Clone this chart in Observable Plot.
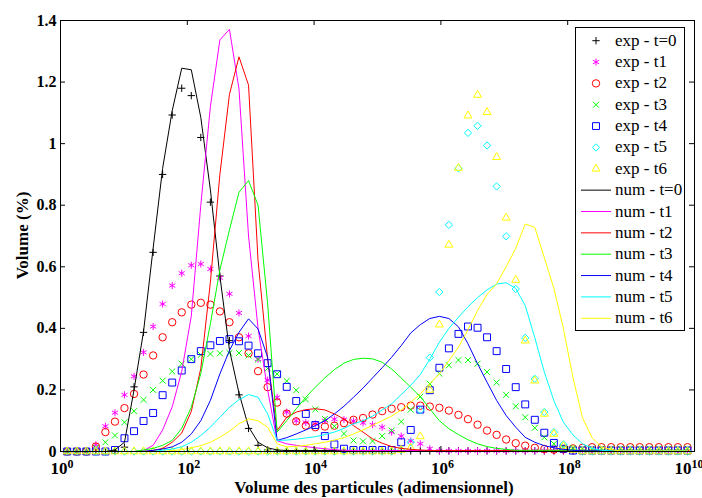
<!DOCTYPE html>
<html><head><meta charset="utf-8">
<script src="https://cdn.jsdelivr.net/npm/d3@7"></script>
<script src="https://cdn.jsdelivr.net/npm/@observablehq/plot@0.6"></script>
<style>
html,body{margin:0;padding:0;background:#fff;overflow:hidden;}
#chart{width:702px;height:498px;}
</style></head><body><div id="chart"></div>
<script>
// log10 of particle volume at each grid point
const logVol = [
 0.106,0.257,0.407,0.558,0.708,0.859,1.009,1.160,1.310,1.461,
 1.611,1.762,1.912,2.063,2.213,2.364,2.514,2.665,2.815,2.966,
 3.116,3.267,3.417,3.568,3.718,3.869,4.019,4.170,4.320,4.471,
 4.621,4.772,4.922,5.073,5.223,5.374,5.524,5.675,5.825,5.976,
 6.126,6.277,6.427,6.578,6.728,6.879,7.029,7.180,7.330,7.481,
 7.631,7.782,7.932,8.083,8.233,8.384,8.534,8.685,8.835,8.986,
 9.136,9.287,9.437,9.588,9.738,9.889];

const expT0 = [
 0,0,0,0,0,0.003,0.014,0.21,0.387,0.647,
 0.90,1.093,1.18,1.156,1.02,0.81,0.57,0.36,0.184,0.075,
 0.02,0.005,0.002,0.002,0.002,0.002,0.002,0.002,0.002,0.002,
 0.002,0.002,0.002,0.002,0.002,0.002,0.002,0.002,0.002,0.002,
 0.002,0.002,0.002,0.002,0.002,0.002,0.002,0.002,0.002,0.002,
 0.002,0.002,0.002,0.002,0.002,0.002,0.002,0.002,0.002,0.002,
 0.002,0.002,0.002,0.002,0.002,0.002];
const expT1 = [
 0,0,0,0.022,0.082,0.126,0.184,0.244,0.322,0.406,
 0.479,0.539,0.579,0.605,0.609,0.593,0.564,0.512,0.45,0.375,
 0.30,0.232,0.176,0.128,0.10,0.094,0.09,0.10,0.105,0.104,
 0.099,0.093,0.087,0.079,0.063,0.05,0.034,0.025,0.009,0.002,
 0.002,0.002,0.002,0.002,0.002,0.002,0.002,0.002,0.002,0.002,
 0.002,0.002,0.002,0.002,0.002,0.002,0.002,0.002,0.002,0.002,
 0.002,0.002,0.002,0.002,0.002,0.002];
const expT2 = [
 0,0,0,0.016,0.063,0.097,0.141,0.187,0.25,0.312,
 0.371,0.42,0.452,0.477,0.483,0.477,0.455,0.42,0.371,0.319,
 0.261,0.209,0.159,0.123,0.098,0.084,0.079,0.081,0.084,0.092,
 0.103,0.109,0.12,0.131,0.139,0.144,0.149,0.149,0.146,0.142,
 0.133,0.119,0.105,0.087,0.068,0.054,0.039,0.027,0.019,0.012,
 0.008,0.006,0.007,0.01,0.012,0.014,0.014,0.014,0.014,0.014,
 0.014,0.014,0.014,0.014,0.014,0.014];
const expT3 = [
 0,0,0,0.012,0.03,0.052,0.095,0.131,0.168,0.2,
 0.23,0.26,0.285,0.30,0.314,0.317,0.319,0.32,0.32,0.312,
 0.299,0.27,0.252,0.229,0.199,0.169,0.137,0.106,0.082,0.058,
 0.036,0.033,0.034,0.05,0.068,0.097,0.136,0.178,0.22,0.253,
 0.28,0.297,0.297,0.285,0.258,0.224,0.184,0.147,0.111,0.077,
 0.046,0.025,0.014,0.01,0.01,0.01,0.01,0.01,0.01,0.01,
 0.01,0.01,0.01,0.01,0.01,0.01];
const expT4 = [
 0,0,0,0,0,0.005,0.043,0.066,0.099,0.125,
 0.183,0.224,0.263,0.30,0.326,0.345,0.359,0.365,0.358,0.344,
 0.319,0.287,0.251,0.21,0.164,0.122,0.086,0.05,0.023,0.009,
 0.005,0.005,0.005,0.005,0.005,0.03,0.07,0.136,0.199,0.272,
 0.335,0.382,0.406,0.402,0.371,0.326,0.268,0.209,0.153,0.103,
 0.061,0.028,0.009,0.003,0.003,0.003,0.003,0.003,0.003,0.003,
 0.003,0.003,0.003,0.003,0.003,0.003];
const expT5 = [
 0,0,0,0,0,0,0,0,0,0,
 0,0,0,0,0,0,0,0,0,0,
 0,0,0,0,0,0,0,0,0,0,
 0,0,0,0,0,0.005,0.03,0.134,0.305,0.518,
 0.736,0.92,1.035,1.058,0.994,0.861,0.699,0.528,0.369,0.236,
 0.128,0.063,0.023,0.008,0,0,0,0,0,0,
 0,0,0,0,0,0];
const expT6 = [
 0,0,0,0,0,0,0,0,0,0,
 0,0,0,0,0,0,0,0,0,0,
 0,0,0,0,0,0,0,0,0,0,
 0,0,0,0,0,0.005,0.012,0.049,0.2,0.412,
 0.671,0.921,1.091,1.158,1.102,0.956,0.759,0.557,0.36,0.23,
 0.122,0.057,0.018,0.005,0,0,0,0,0,0,
 0,0,0,0,0,0];

const numT0 = [
 0,0,0,0,0,0.005,0.03,0.20,0.39,0.66,
 0.92,1.107,1.245,1.24,1.085,0.85,0.57,0.33,0.19,0.08,
 0.03,0.012,0.005,0.003,0.003,0.003,0.003,0.003,0.003,0.003,
 0.003,0.003,0.003,0.003,0.003,0.003,0.003,0.003,0.003,0.003,
 0.003,0.003,0.003,0.003,0.003,0.003,0.003,0.003,0.003,0.003,
 0.003,0.003,0.003,0.003,0.003,0.003,0.003,0.003,0.003,0.003,
 0.003,0.003,0.003,0.003,0.003,0.003];
const numT1 = [
 0,0,0,0,0,0,0,0,0.003,0.02,
 0.07,0.145,0.26,0.44,0.80,1.12,1.337,1.371,1.178,0.70,
 0.40,0.20,0.035,0.025,0.02,0.016,0.012,0.009,0.006,0.004,
 0.003,0.003,0.003,0.003,0.003,0.003,0.003,0.003,0.003,0.003,
 0.003,0.003,0.003,0.003,0.003,0.003,0.003,0.003,0.003,0.003,
 0.003,0.003,0.003,0.003,0.003,0.003,0.003,0.003,0.003,0.003,
 0.003,0.003,0.003,0.003,0.003,0.003];
const numT2 = [
 0,0,0,0,0,0,0,0,0,0.003,
 0.01,0.03,0.06,0.13,0.27,0.55,0.90,1.16,1.282,1.19,
 0.62,0.30,0.068,0.111,0.128,0.136,0.139,0.135,0.122,0.106,
 0.084,0.063,0.041,0.027,0.016,0.01,0.007,0.005,0.003,0.003,
 0.003,0.003,0.003,0.003,0.003,0.003,0.003,0.003,0.003,0.003,
 0.003,0.003,0.003,0.003,0.003,0.003,0.003,0.003,0.003,0.003,
 0.003,0.003,0.003,0.003,0.003,0.003];
const numT3 = [
 0,0,0,0,0,0,0,0,0.005,0.01,
 0.02,0.036,0.075,0.144,0.253,0.415,0.59,0.72,0.842,0.88,
 0.80,0.48,0.063,0.10,0.139,0.176,0.209,0.239,0.266,0.287,
 0.299,0.303,0.301,0.29,0.268,0.239,0.209,0.178,0.139,0.10,
 0.074,0.055,0.038,0.025,0.016,0.01,0.007,0.004,0.004,0.004,
 0.004,0.004,0.004,0.004,0.004,0.004,0.004,0.004,0.004,0.004,
 0.004,0.004,0.004,0.004,0.004,0.004];
const numT4 = [
 0,0,0,0,0,0,0,0,0,0.004,
 0.008,0.015,0.03,0.057,0.10,0.166,0.252,0.328,0.387,0.431,
 0.398,0.306,0.036,0.045,0.057,0.07,0.084,0.10,0.122,0.147,
 0.176,0.206,0.239,0.272,0.306,0.344,0.385,0.412,0.432,0.439,
 0.432,0.405,0.35,0.285,0.225,0.166,0.117,0.079,0.046,0.03,
 0.019,0.012,0.007,0.004,0.002,0.002,0.002,0.002,0.002,0.002,
 0.002,0.002,0.002,0.002,0.002,0.002];
const numT5 = [
 0,0,0,0,0,0,0,0,0,0,
 0.004,0.008,0.015,0.03,0.052,0.079,0.111,0.144,0.168,0.185,
 0.176,0.122,0.036,0.037,0.04,0.044,0.048,0.055,0.063,0.075,
 0.09,0.10,0.115,0.135,0.155,0.185,0.215,0.25,0.30,0.355,
 0.40,0.436,0.47,0.50,0.525,0.544,0.548,0.53,0.474,0.37,
 0.258,0.165,0.095,0.054,0.025,0.01,0.004,0.002,0.002,0.002,
 0.002,0.002,0.002,0.002,0.002,0.002];
const numT6 = [
 0,0,0,0,0,0,0,0,0,0,
 0,0.003,0.006,0.012,0.019,0.03,0.046,0.066,0.09,0.106,
 0.10,0.079,0.025,0.015,0.017,0.02,0.025,0.03,0.037,0.045,
 0.057,0.07,0.085,0.10,0.115,0.135,0.16,0.187,0.22,0.252,
 0.295,0.339,0.395,0.458,0.51,0.545,0.60,0.66,0.739,0.728,
 0.63,0.53,0.40,0.24,0.11,0.045,0.015,0.006,0.002,0.002,
 0.002,0.002,0.002,0.002,0.002,0.002];

const expNames = ["exp - t=0","exp - t1","exp - t2","exp - t3","exp - t4","exp - t5","exp - t6"];
const numNames = ["num - t=0","num - t1","num - t2","num - t3","num - t4","num - t5","num - t6"];
const colors = ["#000000","#ff00ff","#ff0000","#00ff00","#0000ff","#00ffff","#ffff00"];
const symbols = ["plus","asterisk","circle","times","square2","diamond2","triangle2"];
const symbolR = [2.5, 3.3, 3.7, 2.8, 4.4, 3.3, 3.8];
const expValues = [expT0, expT1, expT2, expT3, expT4, expT5, expT6];
const numValues = [numT0, numT1, numT2, numT3, numT4, numT5, numT6];

const xTicks = [1, 1e2, 1e4, 1e6, 1e8, 1e10];
const xTickExponents = ["0","2","4","6","8","10"];
const yTicks = [0, 0.2, 0.4, 0.6, 0.8, 1, 1.2, 1.4];

const rowsOf = (vals, name) => vals.map((v, i) => ({x: Math.pow(10, logVol[i]), y: v, name}));

const W = 702, H = 498, ML = 60, MR = 8, MT = 20, MB = 47;
const FW = W - ML - MR, FH = H - MT - MB, TK = 5;

const dotMarks = expValues.map((vals, k) => Plot.dot(rowsOf(vals, expNames[k]), {
  x: "x", y: "y", symbol: symbols[k], r: symbolR[k], stroke: colors[k], fill: "none", strokeWidth: 1
}));
const lineMarks = numValues.map((vals, k) => Plot.line(rowsOf(vals, numNames[k]), {
  x: "x", y: "y", stroke: colors[k], strokeWidth: 1
}));

const plot = Plot.plot({
  width: W, height: H,
  marginLeft: ML, marginRight: MR, marginTop: MT, marginBottom: MB,
  style: {fontFamily: "'Liberation Serif', serif", fontSize: "16px", fontWeight: "bold", background: "white", color: "black", overflow: "hidden"},
  x: {type: "log", domain: [1, 1e10]},
  y: {domain: [0, 1.4]},
  marks: [
    ...dotMarks,
    ...lineMarks,
    Plot.frame({stroke: "black", strokeWidth: 1}),
    Plot.tickY(yTicks, {y: d => d, insetRight: FW - TK, stroke: "black"}),
    Plot.tickY(yTicks, {y: d => d, insetLeft: FW - TK, stroke: "black"}),
    Plot.tickX(xTicks, {x: d => d, insetTop: FH - TK, stroke: "black"}),
    Plot.tickX(xTicks, {x: d => d, insetBottom: FH - TK, stroke: "black"}),
    Plot.axisY({ticks: yTicks, tickSize: 0, tickPadding: 4, label: null, fontSize: 16,
      tickFormat: d => String(+d.toFixed(1))}),
    Plot.axisX({ticks: xTicks, tickSize: 0, tickPadding: 10, label: null, fontSize: 17,
      tickFormat: () => "10"})
  ]
});
document.getElementById("chart").appendChild(plot);

const svg = d3.select(plot);
// superscript exponents on x tick labels
const xLabels = svg.selectAll('g[aria-label="x-axis tick label"] text');
const nX = xLabels.size();
xLabels.each(function(d, i) {
  const t = d3.select(this);
  t.attr("text-anchor", "start").attr("dx", i === nX - 1 ? -20 : -10);
  t.append("tspan").attr("dy", "-0.5em").attr("font-size", "12px").text(xTickExponents[i]);
});

// axis titles
svg.append("text").attr("x", 374).attr("y", 493).attr("text-anchor", "middle")
  .attr("font-size", 17).attr("font-weight", "bold").text("Volume des particules (adimensionnel)");
svg.append("text").attr("transform", "translate(28,235.5) rotate(-90)").attr("text-anchor", "middle")
  .attr("font-size", 17).attr("font-weight", "bold").text("Volume (%)");

// legend
const d3Sym = {plus: d3.symbolPlus, asterisk: d3.symbolAsterisk, circle: d3.symbolCircle, times: d3.symbolTimes,
  square2: d3.symbolSquare2, diamond2: d3.symbolDiamond2, triangle2: d3.symbolTriangle2};
const lg = svg.append("g").attr("font-weight", "normal").attr("font-size", 17).attr("text-anchor", "start");
lg.append("rect").attr("x", 575.5).attr("y", 27.5).attr("width", 109).attr("height", 303)
  .attr("fill", "white").attr("stroke", "black");
const rowY = i => 40.7 + i * 21.35;
expNames.forEach((name, k) => {
  const y = rowY(k);
  lg.append("path").attr("transform", `translate(596,${y})`)
    .attr("d", d3.symbol(d3Sym[symbols[k]], Math.PI * symbolR[k] * symbolR[k])())
    .attr("fill", "none").attr("stroke", colors[k]);
  lg.append("text").attr("x", 615).attr("y", y + 5).attr("text-anchor", "start").text(name);
});
numNames.forEach((name, k) => {
  const y = rowY(k + 7);
  lg.append("line").attr("x1", 581).attr("x2", 611).attr("y1", y).attr("y2", y).attr("stroke", colors[k]);
  lg.append("text").attr("x", 615).attr("y", y + 5).attr("text-anchor", "start").text(name);
});
</script>
</body></html>
